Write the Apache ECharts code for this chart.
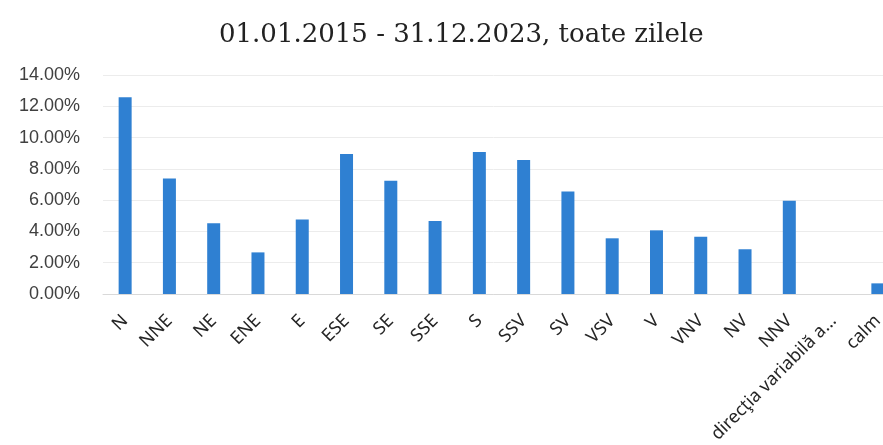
<!DOCTYPE html>
<html>
<head>
<meta charset="utf-8">
<script src="https://cdn.jsdelivr.net/npm/echarts@6/dist/echarts.min.js"></script>
<style>
  html, body { margin: 0; padding: 0; background: #fff; }
  #chart { width: 883px; height: 445px; }
</style>
</head>
<body>
<div id="chart"></div>
<script>
const categories = ['N', 'NNE', 'NE', 'ENE', 'E', 'ESE', 'SE', 'SSE', 'S', 'SSV', 'SV', 'VSV', 'V', 'VNV', 'NV', 'NNV', 'direcţia variabilă a...', 'calm']
// frecventa (%) pe directii
const values = [12.57, 7.39, 4.52, 2.66, 4.77, 8.95, 7.24, 4.66, 9.07, 8.56, 6.56, 3.56, 4.07, 3.66, 2.86, 5.96, 0, 0.68]
const yTicks = [0, 2, 4, 6, 8, 10, 12, 14]

const chart = echarts.init(document.getElementById('chart'))

const option = {
  animation: false,
  title: {
    text: '01.01.2015 - 31.12.2023, toate zilele',
    left: 214,
    top: 17,
    textStyle: {
      fontFamily: 'DejaVu Serif',
      fontSize: 26,
      fontWeight: 'normal',
      color: '#222',
    },
  },
  grid: {
    left: 103,
    top: 75,
    width: 797,
    height: 219,
    outerBoundsMode: 'none',
  },
  xAxis: {
    type: 'category',
    data: categories,
    axisLine: { show: true, lineStyle: { color: '#d9d9d9' } },
    axisTick: { show: false },
    axisLabel: {
      rotate: 45,
      interval: 0,
      margin: 24,
      fontFamily: 'Noto Sans',
      fontSize: 18,
      color: '#262626',
    },
  },
  yAxis: {
    type: 'value',
    min: yTicks[0],
    max: yTicks[yTicks.length - 1],
    interval: 2,
    axisLine: { show: false },
    axisTick: { show: false },
    splitLine: { lineStyle: { color: '#ececec' } },
    axisLabel: {
      margin: 23,
      fontFamily: 'Liberation Sans',
      fontSize: 18,
      color: '#404040',
      formatter: (v) => v.toFixed(2) + '%',
    },
  },
  series: [
    {
      type: 'bar',
      data: values,
      barWidth: 13,
      itemStyle: { color: '#2f80d2' },
    },
  ],
}

chart.setOption(option, true)
</script>
</body>
</html>
